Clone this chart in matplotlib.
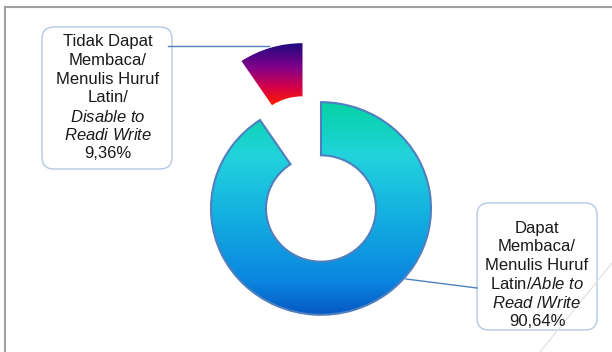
import numpy as np
import matplotlib.pyplot as plt
from matplotlib.colors import LinearSegmentedColormap
from matplotlib.patches import FancyBboxPatch

plt.rcParams['font.family'] = ['Liberation Sans', 'DejaVu Sans']
plt.rcParams['mathtext.fontset'] = 'custom'
plt.rcParams['mathtext.rm'] = 'Liberation Sans'
plt.rcParams['mathtext.it'] = 'Liberation Sans:italic'

# data
categories = ["Tidak Dapat Membaca/Menulis Huruf Latin/Disable to Readi Write",
              "Dapat Membaca/Menulis Huruf Latin/Able to Read/Write"]
shares = [9.36, 90.64]
explode = [0.58, 0]

# label text split into lines as in the chart
label_lines = [
    ["Tidak Dapat", "Membaca/", "Menulis Huruf", "Latin/",
     r"$\mathit{Disable\ to}$", r"$\mathit{Readi\ Write}$"],
    ["Dapat", "Membaca/", "Menulis Huruf", r"Latin/$\mathit{Able\ to}$",
     r"$\mathit{Read\ /Write}$"],
]

small_cmap = LinearSegmentedColormap.from_list(
    "small", [(0, "#ff1a00"), (0.3, "#d0004c"), (0.6, "#80008a"), (1, "#1a0a80")])
big_cmap = LinearSegmentedColormap.from_list(
    "big", [(0, "#0558c2"), (0.16, "#0a86e0"), (0.5, "#15b4e0"),
            (0.75, "#22d3dc"), (1, "#04d2a4")])

fig = plt.figure(figsize=(6.12, 3.52), dpi=100)

ax = fig.add_axes([0.2369, -0.0755, 0.5752, 0.9664])
wedges, _ = ax.pie(shares, startangle=90, counterclock=True, explode=explode,
                   wedgeprops=dict(width=0.5, linewidth=1.5, edgecolor="#4f7fbf"))

grad = np.linspace(0, 1, 256).reshape(-1, 1)
for w, cm in zip(wedges, [small_cmap, big_cmap]):
    bb = w.get_path().get_extents()
    w.set_facecolor("none")
    im = ax.imshow(grad, cmap=cm, origin="lower", aspect="auto",
                   extent=(bb.x0, bb.x1, bb.y0, bb.y1), zorder=0)
    im.set_clip_path(w)
wedges[0].set_edgecolor("none")

ax.set_xlim(-1.6, 1.6)
ax.set_ylim(-1.6, 1.6)
ax.set_aspect("auto")
ax.axis("off")

# overlay in pixel coordinates for frame, labels and leader lines
ov = fig.add_axes([0, 0, 1, 1])
ov.set_xlim(0, 612)
ov.set_ylim(352, 0)
ov.axis("off")
ov.patch.set_alpha(0)

ov.plot([5, 612], [7, 7], color="#a0a0a0", lw=1.5)
ov.plot([5, 5], [7, 352], color="#a0a0a0", lw=1.5)
ov.plot([612, 540], [263, 352], color="#e4e4e4", lw=1)

ov.plot([168, 269], [46, 46], color="#4f81bd", lw=1)
ov.plot([406, 477], [279, 288], color="#4f81bd", lw=1)

boxes = [(42, 27, 130, 142), (477, 203, 120, 127)]
text_pos = [(108, 41.7), (537, 228)]
for i, (x, y, bw, bh) in enumerate(boxes):
    ov.add_patch(FancyBboxPatch((x + 12, y + 12), bw - 24, bh - 24,
                                boxstyle="round,pad=12", fc="white",
                                ec="#b4c8e4", lw=1))
    lines = label_lines[i] + [f"{shares[i]:.2f}".replace(".", ",") + "%"]
    tx, ty = text_pos[i]
    for j, s in enumerate(lines):
        ov.text(tx, ty + j * 18.7, s, ha="center", va="center",
                fontsize=12, color="#1a1a1a")

fig.savefig("out.png", dpi=100)
